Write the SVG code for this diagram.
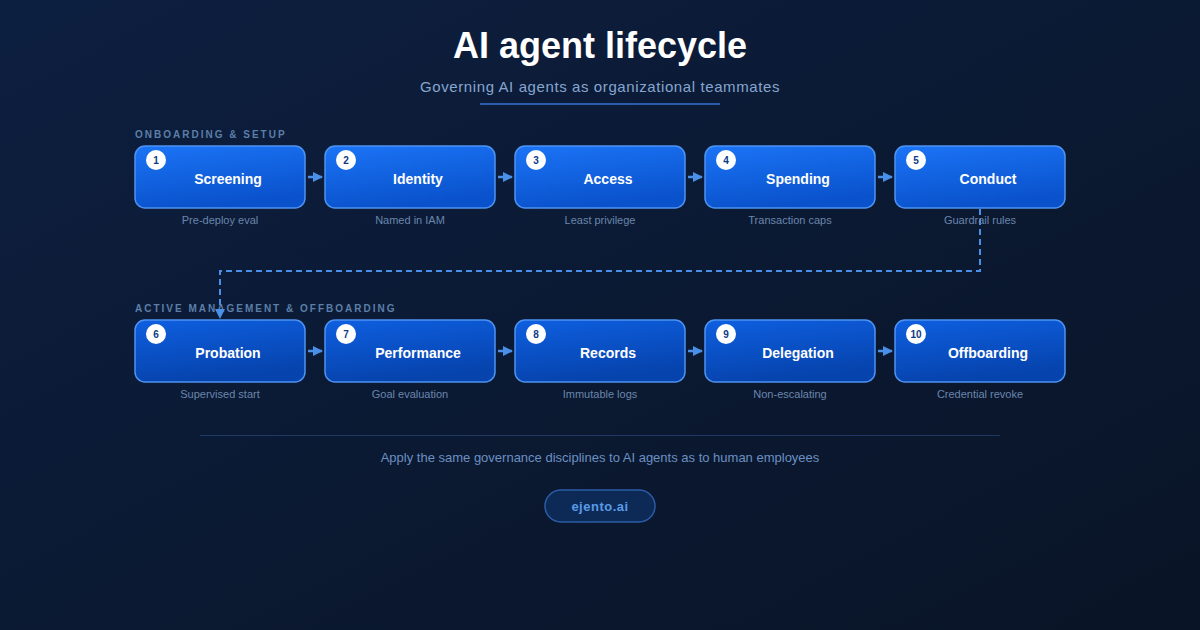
<svg xmlns="http://www.w3.org/2000/svg" width="1200" height="630" viewBox="0 0 1200 630">
<defs>
<linearGradient id="bg" x1="0" y1="0" x2="1" y2="1">
<stop offset="0" stop-color="#0d1f40"/>
<stop offset="1" stop-color="#091426"/>
</linearGradient>
<linearGradient id="g1" x1="0" y1="0" x2="0.3" y2="1">
<stop offset="0" stop-color="#1b74f6"/>
<stop offset="1" stop-color="#0a52cc"/>
</linearGradient>
<linearGradient id="g2" x1="0" y1="0" x2="0.3" y2="1">
<stop offset="0" stop-color="#0e5fe0"/>
<stop offset="1" stop-color="#0643ad"/>
</linearGradient>
<marker id="ah" viewBox="0 0 10 10" refX="9" refY="5" markerWidth="10" markerHeight="11" orient="auto" markerUnits="userSpaceOnUse">
<path d="M0,0 L10,5 L0,10 z" fill="#4a90e8"/>
</marker>
<marker id="ahs" viewBox="0 0 10 10" refX="9" refY="5" markerWidth="10" markerHeight="10" orient="auto" markerUnits="userSpaceOnUse">
<path d="M0,0 L10,5 L0,10 z" fill="#4a90e8"/>
</marker>
</defs>
<style>
.box1{fill:url(#g1);stroke:#4d93f2;stroke-width:1.5}
.box2{fill:url(#g2);stroke:#4d93f2;stroke-width:1.5}
.badge{fill:#ffffff}
.num{font-family:"Liberation Sans",Arial,sans-serif;font-size:10px;font-weight:bold;fill:#0b3a88;text-anchor:middle}
.ttl{font-family:"Liberation Sans",Arial,sans-serif;font-size:14px;font-weight:bold;fill:#ffffff;text-anchor:middle}
.sub{font-family:"Liberation Sans",Arial,sans-serif;font-size:11px;fill:#6a86ac;text-anchor:middle}
.sec{font-family:"Liberation Sans",Arial,sans-serif;font-size:10px;font-weight:bold;fill:#5b7fa8;letter-spacing:2px}
.arr{stroke:#4a90e8;stroke-width:2.5;fill:none}
.dash{stroke:#4a90e8;stroke-width:2;fill:none;stroke-dasharray:6 4}
</style>
<rect width="1200" height="630" fill="url(#bg)"/>
<g id="header">
<text x="600" y="58" font-family="Liberation Sans,Arial,sans-serif" font-size="36" font-weight="bold" fill="#ffffff" text-anchor="middle">AI agent lifecycle</text>
<text x="600" y="92" font-family="Liberation Sans,Arial,sans-serif" font-size="15" fill="#86a6d0" text-anchor="middle" letter-spacing="0.6">Governing AI agents as organizational teammates</text>
<rect x="480" y="103" width="240" height="2" fill="#2a5cab"/>
</g>
<text class="sec" x="135" y="138">ONBOARDING &amp; SETUP</text>
<text class="sec" x="135" y="312">ACTIVE MANAGEMENT &amp; OFFBOARDING</text>
<g id="connectors">
<line class="arr" x1="308" y1="177" x2="322" y2="177" marker-end="url(#ah)"/>
<line class="arr" x1="498" y1="177" x2="512" y2="177" marker-end="url(#ah)"/>
<line class="arr" x1="688" y1="177" x2="702" y2="177" marker-end="url(#ah)"/>
<line class="arr" x1="878" y1="177" x2="892" y2="177" marker-end="url(#ah)"/>
<line class="arr" x1="308" y1="351" x2="322" y2="351" marker-end="url(#ah)"/>
<line class="arr" x1="498" y1="351" x2="512" y2="351" marker-end="url(#ah)"/>
<line class="arr" x1="688" y1="351" x2="702" y2="351" marker-end="url(#ah)"/>
<line class="arr" x1="878" y1="351" x2="892" y2="351" marker-end="url(#ah)"/>
<path class="dash" d="M980,209 V271 H220 V318" marker-end="url(#ahs)"/>
</g>
<g id="n1"><rect class="box1" x="135" y="146" width="170" height="62" rx="10"/><circle class="badge" cx="156" cy="160" r="10"/><text class="num" x="156" y="163.5">1</text><text class="ttl" x="228" y="184">Screening</text><text class="sub" x="220" y="224">Pre-deploy eval</text></g>
<g id="n2"><rect class="box1" x="325" y="146" width="170" height="62" rx="10"/><circle class="badge" cx="346" cy="160" r="10"/><text class="num" x="346" y="163.5">2</text><text class="ttl" x="418" y="184">Identity</text><text class="sub" x="410" y="224">Named in IAM</text></g>
<g id="n3"><rect class="box1" x="515" y="146" width="170" height="62" rx="10"/><circle class="badge" cx="536" cy="160" r="10"/><text class="num" x="536" y="163.5">3</text><text class="ttl" x="608" y="184">Access</text><text class="sub" x="600" y="224">Least privilege</text></g>
<g id="n4"><rect class="box1" x="705" y="146" width="170" height="62" rx="10"/><circle class="badge" cx="726" cy="160" r="10"/><text class="num" x="726" y="163.5">4</text><text class="ttl" x="798" y="184">Spending</text><text class="sub" x="790" y="224">Transaction caps</text></g>
<g id="n5"><rect class="box1" x="895" y="146" width="170" height="62" rx="10"/><circle class="badge" cx="916" cy="160" r="10"/><text class="num" x="916" y="163.5">5</text><text class="ttl" x="988" y="184">Conduct</text><text class="sub" x="980" y="224">Guardrail rules</text></g>
<g id="n6"><rect class="box2" x="135" y="320" width="170" height="62" rx="10"/><circle class="badge" cx="156" cy="334" r="10"/><text class="num" x="156" y="337.5">6</text><text class="ttl" x="228" y="358">Probation</text><text class="sub" x="220" y="398">Supervised start</text></g>
<g id="n7"><rect class="box2" x="325" y="320" width="170" height="62" rx="10"/><circle class="badge" cx="346" cy="334" r="10"/><text class="num" x="346" y="337.5">7</text><text class="ttl" x="418" y="358">Performance</text><text class="sub" x="410" y="398">Goal evaluation</text></g>
<g id="n8"><rect class="box2" x="515" y="320" width="170" height="62" rx="10"/><circle class="badge" cx="536" cy="334" r="10"/><text class="num" x="536" y="337.5">8</text><text class="ttl" x="608" y="358">Records</text><text class="sub" x="600" y="398">Immutable logs</text></g>
<g id="n9"><rect class="box2" x="705" y="320" width="170" height="62" rx="10"/><circle class="badge" cx="726" cy="334" r="10"/><text class="num" x="726" y="337.5">9</text><text class="ttl" x="798" y="358">Delegation</text><text class="sub" x="790" y="398">Non-escalating</text></g>
<g id="n10"><rect class="box2" x="895" y="320" width="170" height="62" rx="10"/><circle class="badge" cx="916" cy="334" r="10"/><text class="num" x="916" y="337.5">10</text><text class="ttl" x="988" y="358">Offboarding</text><text class="sub" x="980" y="398">Credential revoke</text></g>
<g id="footer">
<rect x="200" y="435" width="800" height="1" fill="#1f3a62"/>
<text x="600" y="462" font-family="Liberation Sans,Arial,sans-serif" font-size="13" fill="#6b90c2" text-anchor="middle">Apply the same governance disciplines to AI agents as to human employees</text>
<rect x="545" y="490" width="110" height="32" rx="16" fill="#0d2a56" stroke="#2a5ca6" stroke-width="1.5"/>
<text x="600" y="511" font-family="Liberation Sans,Arial,sans-serif" font-size="13" font-weight="bold" fill="#5a9ae8" text-anchor="middle" letter-spacing="0.5">ejento.ai</text>
</g>
</svg>
